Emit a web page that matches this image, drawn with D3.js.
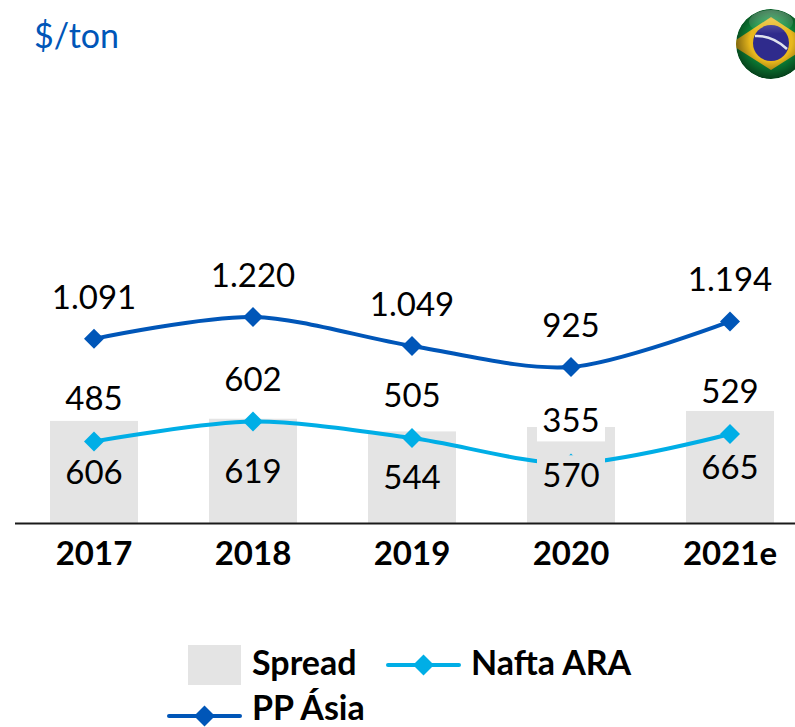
<!DOCTYPE html>
<html><head><meta charset="utf-8">
<style>html,body{margin:0;padding:0;background:#fff;overflow:hidden}svg{display:block}text{font-family:Lato,"Open Sans",sans-serif}</style>
<script src="https://cdn.jsdelivr.net/npm/d3@7"></script></head>
<body><div id="chart"></div>
<script>
const categories = ["2017","2018","2019","2020","2021e"];
const ppAsia = [1091,1220,1049,925,1194];
const ppLabels = ["1.091","1.220","1.049","925","1.194"];
const upperLine = [485,602,505,355,529];   // plotted by the light-blue line, labelled above it
const lowerBars = [606,619,544,570,665];   // plotted by the grey bars, labelled inside them
const legendNames = ["Spread","Nafta ARA","PP Ásia"];
const titleText = "$/ton";

const W=795,H=727, BLUE="#0056b8", CYAN="#00aee6", GREY="#e4e4e4", FS=33, LFS=34;
const svg=d3.select("#chart").append("svg").attr("width",W).attr("height",H);
const defs=svg.append("defs");
const x=d3.scaleBand().domain(categories).range([14.5,809.5]).paddingInner(0.4465).paddingOuter(0.2233);
const cx=c=>x(c)+x.bandwidth()/2;
const y=d3.scaleLinear().domain([0,1220]).range([523.5,317]);
const dia=r=>`M0,${-r}L${r},0L0,${r}L${-r},0Z`;

svg.append("text").attr("x",34).attr("y",48).attr("font-size",34).attr("fill",BLUE).text(titleText);

// bars
svg.selectAll("rect.bar").data(lowerBars).join("rect").attr("class","bar")
 .attr("x",(d,i)=>x(categories[i])).attr("width",x.bandwidth())
 .attr("y",d=>y(d)).attr("height",d=>y(0)-y(d)).attr("fill",GREY);

// axis
const axis=svg.append("g").attr("transform",`translate(0,${y(0)})`).call(d3.axisBottom(x).tickSize(0).tickPadding(18));
axis.select(".domain").attr("stroke","#1a1a1a").attr("stroke-width",2).attr("d","M15,0H795");
axis.selectAll("text").attr("font-size",FS).attr("font-weight",700).attr("fill","#000").attr("font-family","Lato");

// lines
const line=d3.line().x((d,i)=>cx(categories[i])).y(d=>y(d)).curve(d3.curveCardinal.tension(0.1));
function series(vals,color,r){
  const g=svg.append("g");
  g.append("path").attr("d",line(vals)).attr("fill","none").attr("stroke",color).attr("stroke-width",4).attr("stroke-linecap","round");
  g.selectAll("path.m").data(vals).join("path").attr("class","m")
   .attr("transform",(d,i)=>`translate(${cx(categories[i])},${y(d)})`).attr("d",dia(r)).attr("fill",color);
}
series(upperLine,CYAN,10);
series(ppAsia,BLUE,10);

// labels
const lab=(arr,txt,dy)=>svg.append("g").selectAll("text").data(arr).join("text")
 .attr("x",(d,i)=>cx(categories[i])).attr("y",dy).attr("text-anchor","middle").attr("font-size",FS).attr("fill","#000")
 .text((d,i)=>txt(d,i));
lab(ppAsia,(d,i)=>ppLabels[i],d=>y(d)-30);

// label backgrounds at the 2020 point
const i20=categories.indexOf("2020");
const bx=cx("2020")-34;
svg.append("rect").attr("x",bx).attr("width",68).attr("y",y(upperLine[i20])-60).attr("height",38).attr("fill","#fff");
svg.append("rect").attr("x",bx).attr("width",68).attr("y",y(lowerBars[i20]/2)-20).attr("height",45).attr("fill",GREY);

lab(upperLine,d=>d,d=>y(d)-31);
lab(lowerBars,d=>d,d=>y(d/2)+12);

// legend
const lg=svg.append("g");
lg.append("rect").attr("x",188).attr("y",645).attr("width",53).attr("height",40).attr("fill",GREY);
function lgLine(x0,x1,yy,c){
  lg.append("line").attr("x1",x0).attr("x2",x1).attr("y1",yy).attr("y2",yy).attr("stroke",c).attr("stroke-width",4).attr("stroke-linecap","round");
  lg.append("path").attr("transform",`translate(${(x0+x1)/2},${yy})`).attr("d",dia(10.5)).attr("fill",c);
}
lgLine(388,459,665,CYAN);
lgLine(169,240,716,BLUE);
const lt=(t,xx,yy)=>lg.append("text").attr("x",xx).attr("y",yy).attr("font-size",LFS).attr("font-weight",700).attr("fill","#000").text(t);
lt(legendNames[0],252,675);lt(legendNames[1],471,675);lt(legendNames[2],252,720);

// flag
const clip=defs.append("clipPath").attr("id","fc");clip.append("circle").attr("cx",771).attr("cy",44).attr("r",35);
const rg=defs.append("radialGradient").attr("id","shade").attr("cx","50%").attr("cy","45%").attr("r","55%");
rg.append("stop").attr("offset","55%").attr("stop-color","#000").attr("stop-opacity",0);
rg.append("stop").attr("offset","100%").attr("stop-color","#000").attr("stop-opacity",0.55);
const sh=defs.append("linearGradient").attr("id","shine").attr("x1",0).attr("x2",0).attr("y1",0).attr("y2",1);
sh.append("stop").attr("offset","0%").attr("stop-color","#fff").attr("stop-opacity",0.4);
sh.append("stop").attr("offset","100%").attr("stop-color","#fff").attr("stop-opacity",0);
const f=svg.append("g").attr("clip-path","url(#fc)");
f.append("circle").attr("cx",771).attr("cy",44).attr("r",35).attr("fill","#0d8a3a");
f.append("path").attr("d","M771,17L812,44L771,70L730,44Z").attr("fill","#e8b81c");
f.append("circle").attr("cx",771).attr("cy",43).attr("r",18).attr("fill","#2f2b8c");
f.append("path").attr("d","M755,36Q772,35 787,49").attr("fill","none").attr("stroke","#dfe3ee").attr("stroke-width",2.5);
f.append("ellipse").attr("cx",771).attr("cy",22).attr("rx",22).attr("ry",12).attr("fill","url(#shine)");
f.append("circle").attr("cx",771).attr("cy",44).attr("r",35).attr("fill","url(#shade)");
</script></body></html>
